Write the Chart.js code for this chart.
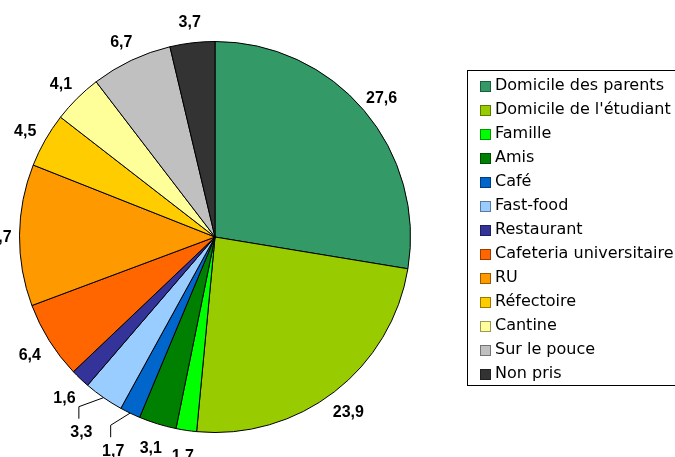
<!DOCTYPE html>
<html>
<head>
<meta charset="utf-8">
<script src="https://cdn.jsdelivr.net/npm/chart.js@4/dist/chart.umd.min.js"></script>
<style>
    html, body { margin: 0; padding: 0; background: #fff; }
    #wrap { width: 675px; height: 457px; position: relative; }
</style>
</head>
<body>
<div id="wrap"><canvas id="graficoRepas" width="675" height="457"></canvas></div>
<script>
// Données (en %)
const categories = ["Domicile des parents", "Domicile de l'étudiant", "Famille", "Amis", "Café",
    "Fast-food", "Restaurant", "Cafeteria universitaire", "RU", "Réfectoire", "Cantine",
    "Sur le pouce", "Non pris"];
const valeurs = [27.6, 23.9, 1.7, 3.1, 1.7, 3.3, 1.6, 6.4, 11.7, 4.5, 4.1, 6.7, 3.7];
const etiquettes = ["27,6", "23,9", "1,7", "3,1", "1,7", "3,3", "1,6", "6,4", "11,7", "4,5", "4,1", "6,7", "3,7"];
const couleurs = ["#339966", "#99CC00", "#00FF00", "#008000", "#0066CC", "#99CCFF", "#333399",
    "#FF6600", "#FF9900", "#FFCC00", "#FFFF99", "#C0C0C0", "#333333"];
const bordsLegende = ["#1f5c3d", "#5c7a00", "#009900", "#004d00", "#003d7a", "#5c7a99", "#1f1f5c",
    "#993d00", "#995c00", "#997a00", "#99995c", "#737373", "#1f1f1f"];
// étiquettes déplacées avec trait de rappel
const avecTrait = [4, 5];

// Plugin: étiquettes des valeurs autour du camembert
const pluginEtiquettes = {
    id: 'etiquettes',
    afterDatasetsDraw(chart) {
        const ctx = chart.ctx;
        const arcs = chart.getDatasetMeta(0).data;
        ctx.save();
        ctx.font = 'bold 16px "Liberation Sans", Arial, sans-serif';
        ctx.textAlign = 'center';
        ctx.textBaseline = 'middle';
        ctx.fillStyle = '#000';
        arcs.forEach((arc, i) => {
            const mid = (arc.startAngle + arc.endAngle) / 2;
            const r = arc.outerRadius;
            const cos = Math.cos(mid), sin = Math.sin(mid);
            let dist = r + 23;
            if (avecTrait.includes(i)) {
                dist = r + 39;
            }
            const lx = arc.x + cos * dist;
            const ly = arc.y + sin * dist + 2;
            if (avecTrait.includes(i)) {
                ctx.beginPath();
                ctx.strokeStyle = '#000';
                ctx.lineWidth = 1;
                ctx.moveTo(arc.x + cos * r, arc.y + sin * r);
                ctx.lineTo(lx - 2.5, ly - 25);
                ctx.lineTo(lx - 2.5, ly - 13);
                ctx.stroke();
            }
            ctx.fillText(etiquettes[i], lx, ly + 1);
        });
        ctx.restore();
    }
};

// Plugin: légende dessinée à droite
const pluginLegende = {
    id: 'legendeDroite',
    afterDraw(chart) {
        const ctx = chart.ctx;
        ctx.save();
        ctx.strokeStyle = '#000';
        ctx.lineWidth = 1;
        ctx.strokeRect(467.5, 70.5, 230, 315);
        ctx.font = '16px "DejaVu Sans", Verdana, sans-serif';
        ctx.textBaseline = 'alphabetic';
        ctx.textAlign = 'left';
        categories.forEach((nom, i) => {
            const y = 90 + i * 24;
            ctx.fillStyle = couleurs[i];
            ctx.fillRect(481, y - 8, 9, 9);
            ctx.strokeStyle = bordsLegende[i];
            ctx.strokeRect(480.5, y - 8.5, 10, 10);
            ctx.fillStyle = '#000';
            ctx.fillText(nom, 495, y);
        });
        ctx.restore();
    }
};

const ctx = document.getElementById('graficoRepas').getContext('2d');
new Chart(ctx, {
    type: 'pie',
    data: {
        labels: categories,
        datasets: [{
            data: valeurs,
            backgroundColor: couleurs,
            borderColor: '#000',
            borderWidth: 1
        }]
    },
    options: {
        responsive: false,
        animation: false,
        layout: {
            padding: { left: 19, right: 264, top: 41, bottom: 24 }
        },
        plugins: {
            legend: { display: false },
            tooltip: { enabled: false }
        }
    },
    plugins: [pluginEtiquettes, pluginLegende]
});
</script>
</body>
</html>
